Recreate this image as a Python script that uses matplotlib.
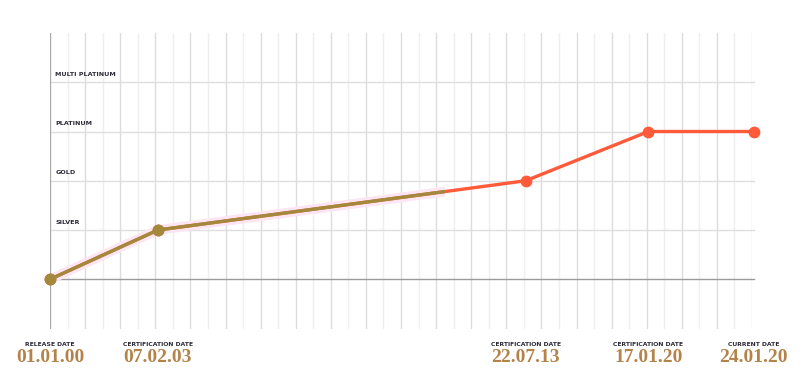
import matplotlib.pyplot as plt
from matplotlib.patches import Rectangle

#------------------ data
levels = ["SILVER", "GOLD", "PLATINUM", "MULTI PLATINUM"]
captions = ["RELEASE DATE", "CERTIFICATION DATE", "CERTIFICATION DATE",
            "CERTIFICATION DATE", "CURRENT DATE"]
dates = ["01.01.00", "07.02.03", "22.07.13", "17.01.20", "24.01.20"]
x_pos = [0, 6.15, 27.1, 34.1, 40.1]     # timeline units (grid columns)
level_idx = [0, 1, 2, 3, 3]
progress = 22.5                           # how far the olive overlay has run

ORANGE = "#ff5a3a"
OLIVE = "#a3893c"
DATE_COL = "#b3834a"
INK = "#2b2b38"
SMALL = dict(fontweight="bold", family="DejaVu Sans", color=INK)

fig = plt.figure(figsize=(8, 3.82), dpi=100)
ax = fig.add_axes([0.0625, 0.14, 0.8775, 0.7736])
ax.set_xlim(0, 40)
ax.set_ylim(-1, 5)
ax.axis("off")

#------------------ grid
for i in range(41):
    col = "#dcdcdc" if i % 2 == 0 else "#efefef"
    ax.plot([i, i], [-1, 5], color=col, lw=1.0, zorder=0)
for k in range(1, len(levels) + 1):
    ax.plot([0, 40.1], [k, k], color="#dedede", lw=1.0, zorder=0, clip_on=False)
ax.plot([0, 40.1], [0, 0], color="#9a9a9a", lw=1.0, zorder=1, clip_on=False)
ax.plot([0, 0], [-1, 5], color="#aaaaaa", lw=1.6, zorder=1)

for k, name in enumerate(levels, start=1):
    ax.text(0.3, k + 0.11, name, ha="left", va="bottom", fontsize=4.6, **SMALL)

#------------------ line
ax.plot(x_pos, level_idx, color=ORANGE, lw=2.4, marker="o", ms=7.5,
        zorder=3, clip_on=False)

clip = Rectangle((-1, -2), progress + 1, 8, transform=ax.transData)
glow, = ax.plot(x_pos, level_idx, color="#fce6f4", lw=7, zorder=2,
                solid_capstyle="round")
glow.set_clip_path(clip)
over, = ax.plot(x_pos, level_idx, color=OLIVE, lw=2.4, marker="o", ms=7.5,
                zorder=4)
over.set_clip_path(clip)

#------------------ date labels
for x, cap, d in zip(x_pos, captions, dates):
    ax.annotate(cap, (x, -1), xytext=(0, -11.5), textcoords="offset points",
                ha="center", va="center", fontsize=4.4,
                annotation_clip=False, **SMALL)
    ax.annotate(d, (x, -1), xytext=(0, -21), textcoords="offset points",
                ha="center", va="center", fontsize=14, fontweight="bold",
                family="Liberation Serif", color=DATE_COL,
                annotation_clip=False)

fig.savefig("out.png", dpi=100)
